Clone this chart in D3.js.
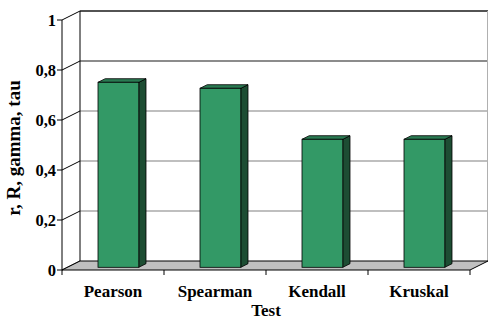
<!DOCTYPE html>
<html>
<head>
<meta charset="utf-8">
<script src="https://cdn.jsdelivr.net/npm/d3@7"></script>
<style>
  html, body { margin: 0; padding: 0; background: #fff; }
  svg { display: block; }
</style>
</head>
<body>
<svg id="chart" width="488" height="320"></svg>
<script>
// Correlation coefficients by test
const categories = ["Pearson", "Spearman", "Kendall", "Kruskal"];
const values = [0.74, 0.716, 0.512, 0.512];
const yTicks = [0, 0.2, 0.4, 0.6, 0.8, 1];
const yTickLabels = ["0", "0,2", "0,4", "0,6", "0,8", "1"];
const xTitle = "Test";
const yTitle = "r, R, gamma, tau";

(function () {
  const svg = d3.select("#chart");
  const serif = "'Liberation Serif', 'Times New Roman', Times, serif";
  const label = sel => sel.attr("font-family", serif).attr("font-weight", "bold")
    .attr("fill", "#000");

  // Front plane of the 3D box
  const plotLeft = 62, plotRight = 470, plotBottom = 270, plotTop = 20;
  // Depth vector of the full box, and where the columns sit inside it
  const depth = { dx: 18, dy: -9 };
  const barFront = 0.3, barBack = 0.7;

  const x = d3.scaleBand().domain(categories).range([plotLeft, plotRight])
    .paddingInner(0.6).paddingOuter(0.3);
  const y = d3.scaleLinear().domain([0, 1]).range([plotBottom, plotTop]);

  const off = t => ({ dx: depth.dx * t, dy: depth.dy * t });
  const pts = arr => arr.map(p => p.join(",")).join(" ");

  // Back wall
  const bw = off(1);
  svg.append("rect")
    .attr("x", plotLeft + bw.dx).attr("y", y(1) + bw.dy)
    .attr("width", plotRight - plotLeft).attr("height", plotBottom - plotTop)
    .attr("fill", "#fff");

  // Gridlines on back wall
  svg.append("g").selectAll("line").data(yTicks.filter(d => d > 0)).join("line")
    .attr("x1", plotLeft + bw.dx).attr("x2", plotRight + bw.dx)
    .attr("y1", d => y(d) + bw.dy).attr("y2", d => y(d) + bw.dy)
    .attr("stroke", d => d >= 0.8 ? "#1a1a1a" : "#808080")
    .attr("stroke-width", d => d === 1 ? 1.4 : 1.2);

  // Back wall right edge
  svg.append("line")
    .attr("x1", plotRight + bw.dx - 0.5).attr("x2", plotRight + bw.dx - 0.5)
    .attr("y1", y(1) + bw.dy).attr("y2", y(0) + bw.dy)
    .attr("stroke", "#b0b0b0");

  // Side wall: vertical back edge and diagonals at each tick
  svg.append("line")
    .attr("x1", plotLeft + bw.dx).attr("x2", plotLeft + bw.dx)
    .attr("y1", y(1) + bw.dy).attr("y2", y(0) + bw.dy)
    .attr("stroke", "#000");
  svg.append("g").selectAll("line").data(yTicks).join("line")
    .attr("x1", plotLeft).attr("y1", d => y(d))
    .attr("x2", plotLeft + bw.dx).attr("y2", d => y(d) + bw.dy)
    .attr("stroke", "#000");

  // Floor
  svg.append("polygon")
    .attr("points", pts([
      [plotLeft, y(0)], [plotRight, y(0)],
      [plotRight + bw.dx, y(0) + bw.dy], [plotLeft + bw.dx, y(0) + bw.dy]
    ]))
    .attr("fill", "#c0c0c0").attr("stroke", "#000").attr("stroke-width", 1);

  // Columns
  const f = off(barFront), b = off(barBack);
  const bars = svg.append("g").selectAll("g").data(categories).join("g");
  bars.each(function (c, i) {
    const g = d3.select(this);
    const x0 = x(c) + f.dx, x1 = x0 + x.bandwidth();
    const yb = y(0) + f.dy, yt = y(values[i]) + f.dy;
    const ddx = b.dx - f.dx, ddy = b.dy - f.dy;
    // side face
    g.append("polygon")
      .attr("points", pts([[x1, yt], [x1 + ddx, yt + ddy], [x1 + ddx, yb + ddy], [x1, yb]]))
      .attr("fill", "#1d4d33").attr("stroke", "#000").attr("stroke-width", 0.8);
    // top face
    g.append("polygon")
      .attr("points", pts([[x0, yt], [x0 + ddx, yt + ddy], [x1 + ddx, yt + ddy], [x1, yt]]))
      .attr("fill", "#2a7a52").attr("stroke", "#000").attr("stroke-width", 0.8);
    // front face
    g.append("rect")
      .attr("x", x0).attr("y", yt).attr("width", x1 - x0).attr("height", yb - yt)
      .attr("fill", "#339966").attr("stroke", "#000").attr("stroke-width", 0.8);
  });

  // Front value axis
  svg.append("line")
    .attr("x1", plotLeft).attr("x2", plotLeft).attr("y1", y(1)).attr("y2", y(0))
    .attr("stroke", "#000");
  svg.append("g").selectAll("line").data(yTicks).join("line")
    .attr("x1", plotLeft - 5).attr("x2", plotLeft).attr("y1", d => y(d)).attr("y2", d => y(d))
    .attr("stroke", "#000");
  svg.append("g").selectAll("text").data(yTicks).join("text")
    .call(label)
    .attr("x", plotLeft - 6).attr("y", d => y(d) + 6)
    .attr("text-anchor", "end").attr("font-size", 16.5)
    .text((d, i) => yTickLabels[i]);

  // Front category axis ticks
  const catEdges = categories.map(c => x(c) - x.step() * 0.3).concat([plotRight]);
  svg.append("g").selectAll("line").data(catEdges).join("line")
    .attr("x1", d => d).attr("x2", d => d).attr("y1", y(0)).attr("y2", y(0) + 5)
    .attr("stroke", "#000");
  svg.append("g").selectAll("text").data(categories).join("text")
    .call(label)
    .attr("x", c => x(c) + x.bandwidth() / 2).attr("y", 297)
    .attr("text-anchor", "middle").attr("font-size", 17)
    .text(c => c);

  // Axis titles
  svg.append("text")
    .call(label)
    .attr("x", (plotLeft + plotRight) / 2).attr("y", 316)
    .attr("text-anchor", "middle").attr("font-size", 17)
    .text(xTitle);
  svg.append("text")
    .call(label)
    .attr("transform", "translate(20,148) rotate(-90)")
    .attr("text-anchor", "middle").attr("font-size", 19)
    .text(yTitle);
})();
</script>
</body>
</html>
